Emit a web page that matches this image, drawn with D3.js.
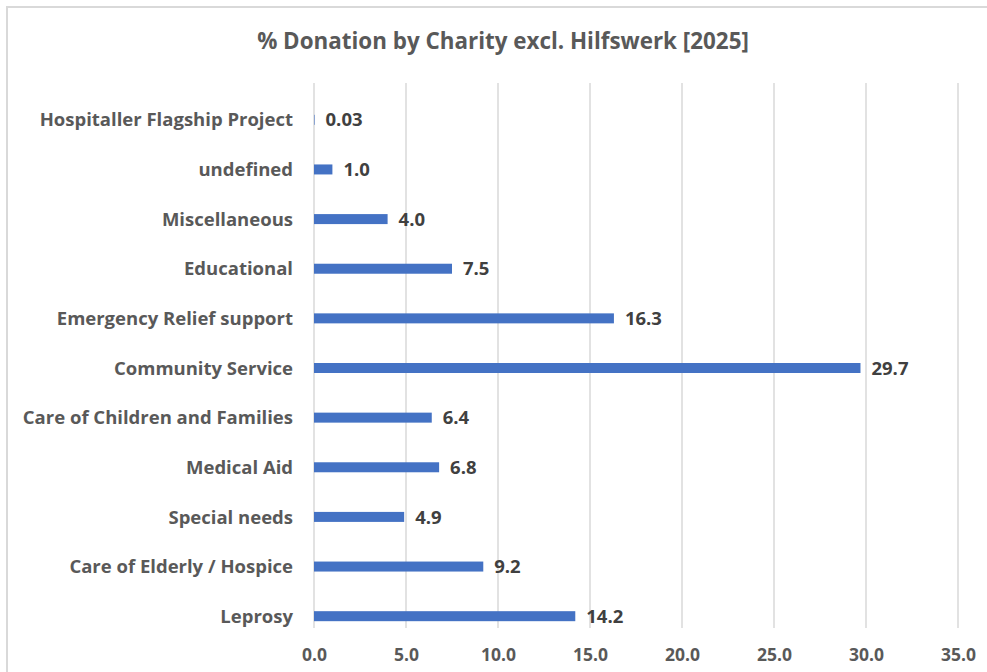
<!DOCTYPE html>
<html>
<head>
<meta charset="utf-8">
<script src="https://cdn.jsdelivr.net/npm/d3@7"></script>
<style>
  body { margin:0; background:#fff; }
  text { font-family: "Open Sans", sans-serif; font-weight:bold; }
</style>
</head>
<body>
<div class="chart"></div>
<script>
var categories = ["Hospitaller Flagship Project", "undefined", "Miscellaneous", "Educational ",
                  "Emergency Relief support", "Community Service", "Care of Children and Families",
                  "Medical Aid", "Special needs", "Care of Elderly / Hospice", "Leprosy"];
var values = [0.03, 1.0, 4.0, 7.5, 16.3, 29.7, 6.4, 6.8, 4.9, 9.2, 14.2];
var valueLabels = ["0.03", "1.0", "4.0", "7.5", "16.3", "29.7", "6.4", "6.8", "4.9", "9.2", "14.2"];
var xTicks = [0, 5, 10, 15, 20, 25, 30, 35];
var title = "% Donation by Charity excl. Hilfswerk [2025]";

var W = 987, H = 672;
var margin = {top:83, left:314, right:29};
var width = W - margin.left - margin.right;
var gridH = 545;              // gridlines 83 -> 628
var bandTop = 12, bandBottom = 558;   // category rows sit a little lower than grid

var svg = d3.select(".chart").append("svg").attr("width", W).attr("height", H);

// chart frame
svg.append("rect").attr("x", 7).attr("y", 7).attr("width", W + 10).attr("height", H + 10)
   .attr("fill", "none").attr("stroke", "#d9d9d9").attr("stroke-width", 2);

svg.append("text").attr("x", 503).attr("y", 49)
   .attr("text-anchor", "middle").attr("font-size", "22.4px").attr("fill", "#595959")
   .text(title);

var g = svg.append("g").attr("transform", "translate(" + margin.left + "," + margin.top + ")");

var x = d3.scaleLinear().domain([0, 35]).range([0, width]);
var y = d3.scaleBand().domain(categories).range([bandTop, bandBottom]);

// gridlines
g.selectAll(".grid").data(xTicks).enter().append("line")
 .attr("x1", d => x(d)).attr("x2", d => x(d))
 .attr("y1", 0).attr("y2", gridH)
 .attr("stroke", "#d9d9d9").attr("stroke-width", 1.5);

// x axis
var xAxis = g.append("g").attr("transform", "translate(0," + gridH + ")")
 .call(d3.axisBottom(x).tickValues(xTicks).tickFormat(d3.format(".1f")).tickSize(0).tickPadding(21));
xAxis.select(".domain").remove();
xAxis.attr("font-family", null).attr("font-size", null);
xAxis.selectAll("text").attr("font-size", "17.5px").attr("fill", "#595959");

// y axis labels
var yAxis = g.append("g")
 .call(d3.axisLeft(y).tickSize(0).tickPadding(21));
yAxis.select(".domain").remove();
yAxis.attr("font-family", null).attr("font-size", null);
yAxis.selectAll("text").attr("font-size", "18.5px").attr("fill", "#595959").attr("dy", "0.36em");

var barH = 10;
g.selectAll(".bar").data(categories).enter().append("rect")
 .attr("x", x(0))
 .attr("y", d => y(d) + y.bandwidth() / 2 - barH / 2)
 .attr("width", (d, i) => x(values[i]) - x(0))
 .attr("height", barH)
 .attr("fill", "#4472c4");

g.selectAll(".val").data(categories).enter().append("text")
 .attr("x", (d, i) => x(values[i]) + 11)
 .attr("y", d => y(d) + y.bandwidth() / 2)
 .attr("dy", "0.36em")
 .attr("font-size", "18.5px").attr("fill", "#404040")
 .text((d, i) => valueLabels[i]);
</script>
</body>
</html>
